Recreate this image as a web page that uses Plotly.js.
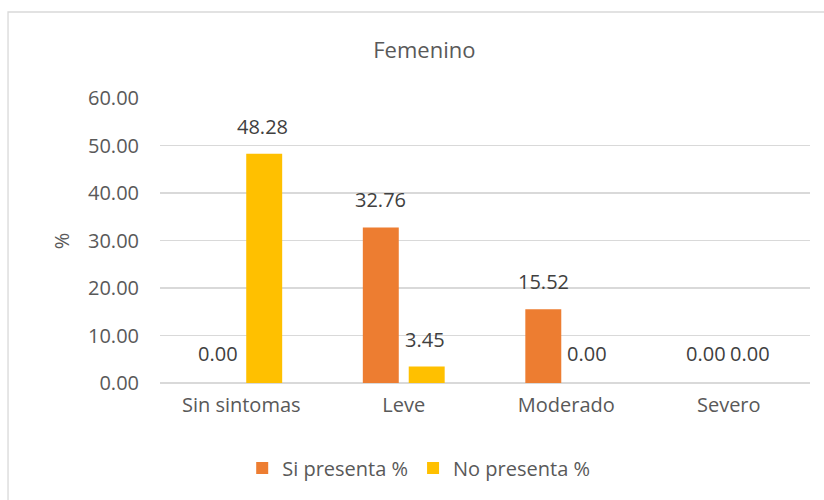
<!DOCTYPE html>
<html>
<head>
<meta charset="utf-8">
<script src="https://cdn.plot.ly/plotly-3.0.1.min.js"></script>
<style>html,body{margin:0;padding:0;background:#fff;}#chart{width:824px;height:500px;}</style>
</head>
<body>
<div id="chart"></div>
<script>
const categories = ["Sin sintomas", "Leve", "Moderado", "Severo"];
const siPresenta = [0.00, 32.76, 15.52, 0.00];
const noPresenta = [48.28, 3.45, 0.00, 0.00];
const seriesNames = ["Si presenta %", "No presenta %"];
const tickValues = [0, 10, 20, 30, 40, 50, 60];
const chartTitle = "Femenino";
const yTitle = "%";

const FONT = "Open Sans, sans-serif";
const colors = ["#ED7D31", "#FFC000"];

const traces = [
  {type: "bar", name: seriesNames[0], x: categories, y: siPresenta, marker: {color: colors[0]}, hoverinfo: "skip"},
  {type: "bar", name: seriesNames[1], x: categories, y: noPresenta, marker: {color: colors[1]}, hoverinfo: "skip"}
];

const annotations = [];
[siPresenta, noPresenta].forEach((vals, si) => {
  vals.forEach((v, i) => {
    annotations.push({
      x: categories[i], y: v, xref: "x", yref: "y",
      text: v.toFixed(2), showarrow: false,
      xshift: si === 0 ? -23 : 21, yshift: v === 0 ? 14 : 12, yanchor: "bottom",
      font: {family: FONT, size: 20, color: "#404040"}
    });
  });
});
annotations.push({
  x: -0.151, y: 0.5, xref: "paper", yref: "paper", text: yTitle, textangle: -90,
  xanchor: "center", yanchor: "middle",
  showarrow: false, font: {family: FONT, size: 20, color: "#595959"}
});

const layout = {
  width: 824, height: 500,
  margin: {l: 160, r: 14, t: 98, b: 117},
  paper_bgcolor: "#fff", plot_bgcolor: "#fff",
  font: {family: FONT, color: "#595959", size: 20},
  title: {text: chartTitle, x: 0.515, xref: "container", xanchor: "center", y: 0.9, yref: "container", yanchor: "middle",
          font: {family: FONT, size: 22, color: "#595959"}},
  barmode: "group", bargap: 0.435, bargroupgap: 0.217,
  xaxis: {type: "category", showgrid: false, zeroline: false, showline: false, ticks: "",
          ticklabelstandoff: 8, tickfont: {family: FONT, size: 20, color: "#595959"}},
  yaxis: {range: [0, 60], tickvals: tickValues, tickformat: ".2f", showgrid: true, gridcolor: "#d9d9d9", gridwidth: 1.3,
          zeroline: true, zerolinecolor: "#d9d9d9", zerolinewidth: 1.3, showline: false, ticks: "",
          ticklabelstandoff: 20, tickfont: {family: FONT, size: 20, color: "#595959"}},
  showlegend: true,
  legend: {orientation: "h", x: 0.398, xanchor: "center", y: -0.298, yanchor: "middle",
           font: {family: FONT, size: 20, color: "#595959"}, itemclick: false},
  annotations: annotations,
  shapes: [{type: "rect", xref: "paper", yref: "paper", x0: -0.2338, x1: 1.046, y0: -0.5, y1: 1.3018,
            line: {color: "#d9d9d9", width: 1.3}, fillcolor: "rgba(0,0,0,0)", layer: "below"}]
};

Plotly.newPlot("chart", traces, layout, {staticPlot: true, displayModeBar: false});
</script>
</body>
</html>
